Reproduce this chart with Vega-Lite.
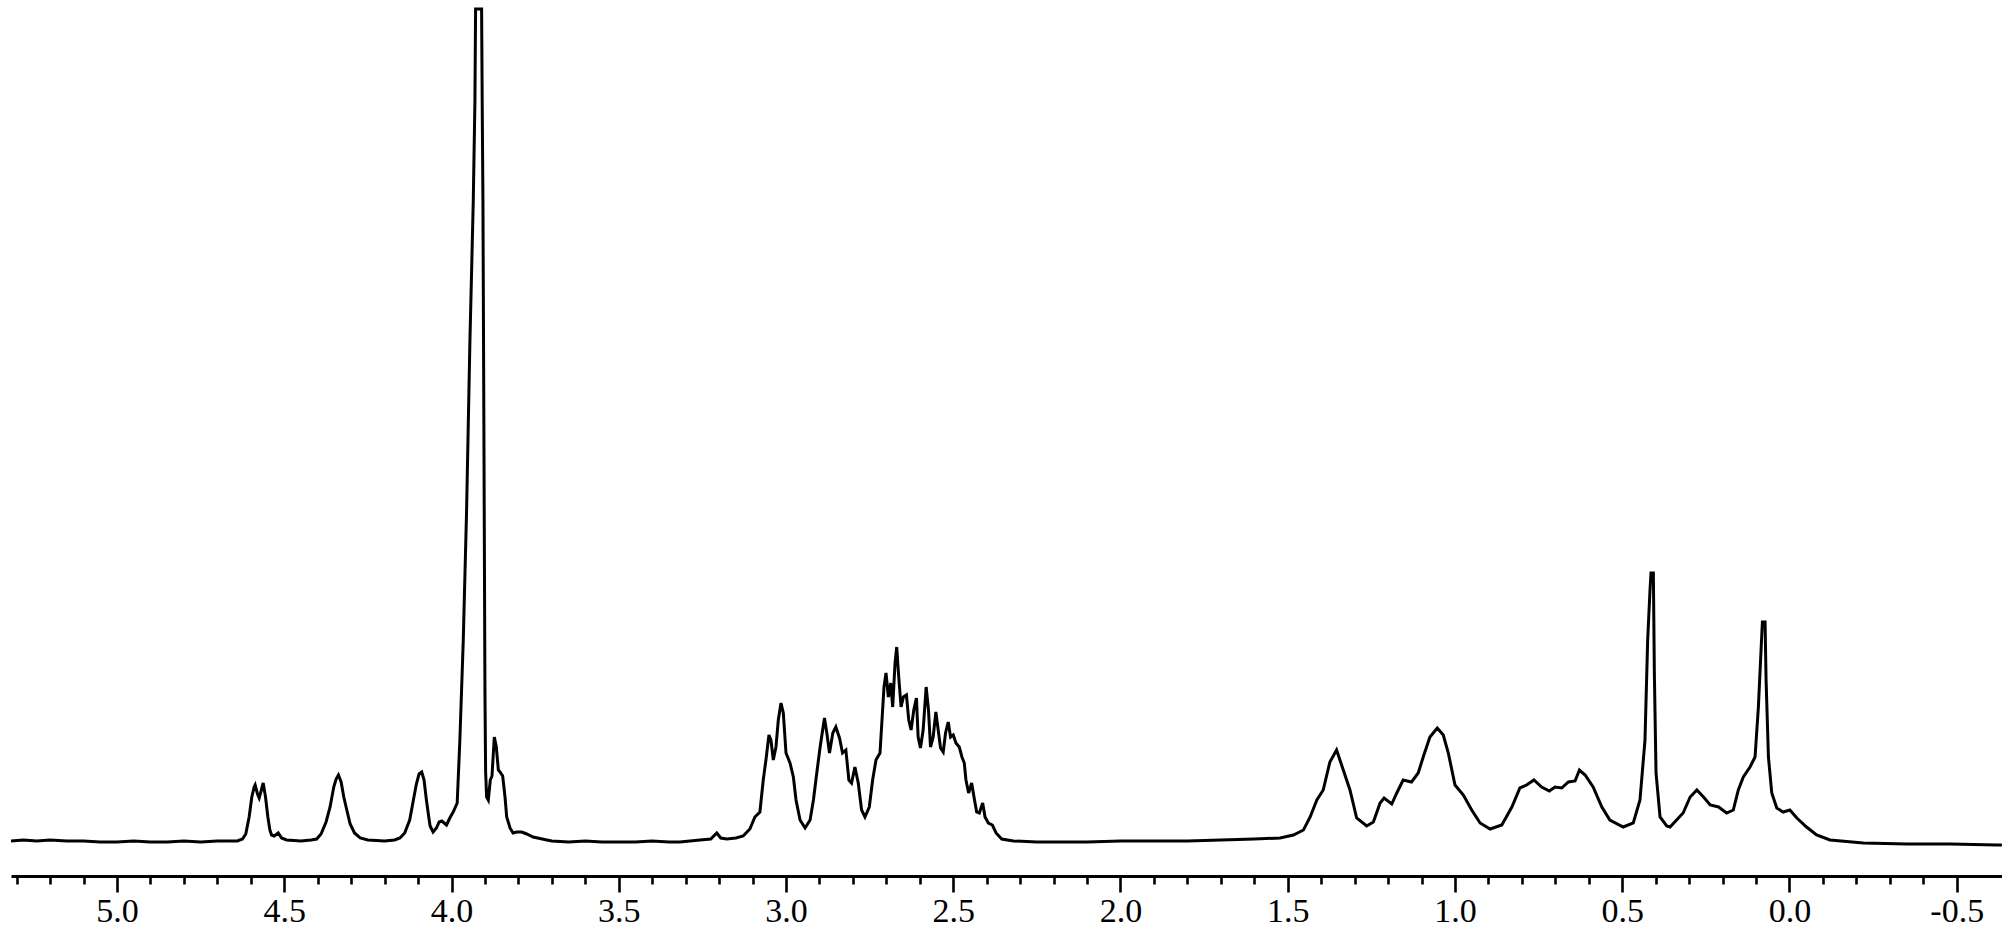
{
  "$schema": "https://vega.github.io/schema/vega-lite/v6.json",
  "width": 1991,
  "height": 876,
  "autosize": {"type": "none"},
  "padding": {"left": 11, "right": 0, "top": 0, "bottom": 66},
  "background": "white",
  "config": {"view": {"stroke": null}},
  "data": {"values": [
    {"ppm": 5.317, "i": 1}, {"ppm": 5.28, "i": 2}, {"ppm": 5.24, "i": 1}, {"ppm": 5.2, "i": 2}, {"ppm": 5.15, "i": 1},
    {"ppm": 5.1, "i": 1}, {"ppm": 5.05, "i": 0}, {"ppm": 5.0, "i": 0}, {"ppm": 4.95, "i": 1}, {"ppm": 4.9, "i": 0},
    {"ppm": 4.85, "i": 0}, {"ppm": 4.8, "i": 1}, {"ppm": 4.75, "i": 0}, {"ppm": 4.7, "i": 1}, {"ppm": 4.66, "i": 1},
    {"ppm": 4.64, "i": 1}, {"ppm": 4.625, "i": 3}, {"ppm": 4.615, "i": 8}, {"ppm": 4.605, "i": 25}, {"ppm": 4.597, "i": 45},
    {"ppm": 4.59, "i": 55}, {"ppm": 4.587, "i": 57}, {"ppm": 4.58, "i": 48}, {"ppm": 4.575, "i": 44}, {"ppm": 4.57, "i": 50},
    {"ppm": 4.563, "i": 59}, {"ppm": 4.556, "i": 45}, {"ppm": 4.549, "i": 25}, {"ppm": 4.543, "i": 12}, {"ppm": 4.538, "i": 7},
    {"ppm": 4.53, "i": 6}, {"ppm": 4.518, "i": 9}, {"ppm": 4.508, "i": 4}, {"ppm": 4.493, "i": 2}, {"ppm": 4.45, "i": 1},
    {"ppm": 4.42, "i": 2}, {"ppm": 4.403, "i": 3}, {"ppm": 4.39, "i": 8}, {"ppm": 4.375, "i": 20}, {"ppm": 4.363, "i": 35},
    {"ppm": 4.352, "i": 55}, {"ppm": 4.345, "i": 63}, {"ppm": 4.338, "i": 67}, {"ppm": 4.33, "i": 60}, {"ppm": 4.322, "i": 45},
    {"ppm": 4.313, "i": 32}, {"ppm": 4.303, "i": 18}, {"ppm": 4.29, "i": 9}, {"ppm": 4.273, "i": 4}, {"ppm": 4.25, "i": 2},
    {"ppm": 4.2, "i": 1}, {"ppm": 4.17, "i": 2}, {"ppm": 4.154, "i": 4}, {"ppm": 4.14, "i": 9}, {"ppm": 4.125, "i": 22},
    {"ppm": 4.115, "i": 40}, {"ppm": 4.105, "i": 58}, {"ppm": 4.097, "i": 68}, {"ppm": 4.089, "i": 70}, {"ppm": 4.082, "i": 62},
    {"ppm": 4.075, "i": 42}, {"ppm": 4.068, "i": 25}, {"ppm": 4.064, "i": 16}, {"ppm": 4.055, "i": 10}, {"ppm": 4.045, "i": 14},
    {"ppm": 4.037, "i": 20}, {"ppm": 4.029, "i": 21}, {"ppm": 4.022, "i": 19}, {"ppm": 4.015, "i": 17}, {"ppm": 4.005, "i": 24},
    {"ppm": 3.995, "i": 30}, {"ppm": 3.983, "i": 39}, {"ppm": 3.975, "i": 102}, {"ppm": 3.965, "i": 200}, {"ppm": 3.955, "i": 330},
    {"ppm": 3.945, "i": 500}, {"ppm": 3.935, "i": 640}, {"ppm": 3.93, "i": 740}, {"ppm": 3.928, "i": 833}, {"ppm": 3.91, "i": 833},
    {"ppm": 3.908, "i": 729}, {"ppm": 3.906, "i": 642}, {"ppm": 3.903, "i": 400}, {"ppm": 3.9, "i": 150}, {"ppm": 3.898, "i": 70},
    {"ppm": 3.895, "i": 45}, {"ppm": 3.89, "i": 42}, {"ppm": 3.884, "i": 62}, {"ppm": 3.879, "i": 66}, {"ppm": 3.872, "i": 105},
    {"ppm": 3.866, "i": 95}, {"ppm": 3.86, "i": 72}, {"ppm": 3.855, "i": 70}, {"ppm": 3.847, "i": 66}, {"ppm": 3.84, "i": 45},
    {"ppm": 3.835, "i": 25}, {"ppm": 3.825, "i": 14}, {"ppm": 3.816, "i": 9}, {"ppm": 3.805, "i": 10}, {"ppm": 3.79, "i": 10},
    {"ppm": 3.775, "i": 8}, {"ppm": 3.756, "i": 5}, {"ppm": 3.715, "i": 2}, {"ppm": 3.7, "i": 1}, {"ppm": 3.65, "i": 0},
    {"ppm": 3.6, "i": 1}, {"ppm": 3.55, "i": 0}, {"ppm": 3.5, "i": 0}, {"ppm": 3.45, "i": 0}, {"ppm": 3.4, "i": 1},
    {"ppm": 3.35, "i": 0}, {"ppm": 3.317, "i": 0}, {"ppm": 3.257, "i": 2}, {"ppm": 3.225, "i": 3}, {"ppm": 3.207, "i": 9},
    {"ppm": 3.195, "i": 4}, {"ppm": 3.177, "i": 3}, {"ppm": 3.15, "i": 4}, {"ppm": 3.128, "i": 6}, {"ppm": 3.108, "i": 13},
    {"ppm": 3.093, "i": 25}, {"ppm": 3.078, "i": 30}, {"ppm": 3.068, "i": 62}, {"ppm": 3.06, "i": 82}, {"ppm": 3.051, "i": 107},
    {"ppm": 3.045, "i": 102}, {"ppm": 3.038, "i": 82}, {"ppm": 3.03, "i": 95}, {"ppm": 3.023, "i": 122}, {"ppm": 3.015, "i": 139},
    {"ppm": 3.008, "i": 129}, {"ppm": 3.0, "i": 89}, {"ppm": 2.988, "i": 79}, {"ppm": 2.978, "i": 65}, {"ppm": 2.97, "i": 42},
    {"ppm": 2.958, "i": 22}, {"ppm": 2.943, "i": 14}, {"ppm": 2.928, "i": 22}, {"ppm": 2.918, "i": 42}, {"ppm": 2.908, "i": 69},
    {"ppm": 2.898, "i": 95}, {"ppm": 2.885, "i": 124}, {"ppm": 2.878, "i": 109}, {"ppm": 2.87, "i": 89}, {"ppm": 2.86, "i": 109},
    {"ppm": 2.851, "i": 115}, {"ppm": 2.84, "i": 104}, {"ppm": 2.831, "i": 89}, {"ppm": 2.821, "i": 92}, {"ppm": 2.812, "i": 62},
    {"ppm": 2.804, "i": 59}, {"ppm": 2.794, "i": 75}, {"ppm": 2.784, "i": 59}, {"ppm": 2.774, "i": 32}, {"ppm": 2.764, "i": 25},
    {"ppm": 2.751, "i": 35}, {"ppm": 2.741, "i": 62}, {"ppm": 2.731, "i": 82}, {"ppm": 2.719, "i": 89}, {"ppm": 2.713, "i": 122},
    {"ppm": 2.707, "i": 155}, {"ppm": 2.701, "i": 169}, {"ppm": 2.694, "i": 145}, {"ppm": 2.687, "i": 159}, {"ppm": 2.681, "i": 135},
    {"ppm": 2.674, "i": 179}, {"ppm": 2.669, "i": 195}, {"ppm": 2.663, "i": 165}, {"ppm": 2.656, "i": 135}, {"ppm": 2.649, "i": 145},
    {"ppm": 2.64, "i": 147}, {"ppm": 2.633, "i": 122}, {"ppm": 2.626, "i": 112}, {"ppm": 2.618, "i": 132}, {"ppm": 2.61, "i": 144},
    {"ppm": 2.605, "i": 105}, {"ppm": 2.598, "i": 94}, {"ppm": 2.59, "i": 112}, {"ppm": 2.581, "i": 155}, {"ppm": 2.574, "i": 132},
    {"ppm": 2.568, "i": 95}, {"ppm": 2.56, "i": 105}, {"ppm": 2.552, "i": 130}, {"ppm": 2.545, "i": 112}, {"ppm": 2.538, "i": 94},
    {"ppm": 2.53, "i": 90}, {"ppm": 2.523, "i": 109}, {"ppm": 2.515, "i": 120}, {"ppm": 2.508, "i": 105}, {"ppm": 2.5, "i": 107},
    {"ppm": 2.492, "i": 99}, {"ppm": 2.482, "i": 95}, {"ppm": 2.474, "i": 85}, {"ppm": 2.467, "i": 79}, {"ppm": 2.462, "i": 62},
    {"ppm": 2.454, "i": 49}, {"ppm": 2.445, "i": 59}, {"ppm": 2.438, "i": 45}, {"ppm": 2.43, "i": 30}, {"ppm": 2.422, "i": 29},
    {"ppm": 2.412, "i": 39}, {"ppm": 2.405, "i": 25}, {"ppm": 2.395, "i": 19}, {"ppm": 2.383, "i": 17}, {"ppm": 2.372, "i": 9},
    {"ppm": 2.355, "i": 3}, {"ppm": 2.32, "i": 1}, {"ppm": 2.25, "i": 0}, {"ppm": 2.18, "i": 0}, {"ppm": 2.1, "i": 0},
    {"ppm": 2.0, "i": 1}, {"ppm": 1.9, "i": 1}, {"ppm": 1.8, "i": 1}, {"ppm": 1.7, "i": 2}, {"ppm": 1.6, "i": 3},
    {"ppm": 1.523, "i": 4}, {"ppm": 1.483, "i": 7}, {"ppm": 1.453, "i": 12}, {"ppm": 1.433, "i": 25}, {"ppm": 1.413, "i": 42},
    {"ppm": 1.394, "i": 52}, {"ppm": 1.374, "i": 80}, {"ppm": 1.354, "i": 92}, {"ppm": 1.334, "i": 72}, {"ppm": 1.314, "i": 52},
    {"ppm": 1.294, "i": 24}, {"ppm": 1.264, "i": 16}, {"ppm": 1.244, "i": 20}, {"ppm": 1.224, "i": 39}, {"ppm": 1.212, "i": 44},
    {"ppm": 1.189, "i": 38}, {"ppm": 1.174, "i": 49}, {"ppm": 1.155, "i": 62}, {"ppm": 1.13, "i": 60}, {"ppm": 1.11, "i": 69},
    {"ppm": 1.095, "i": 85}, {"ppm": 1.075, "i": 105}, {"ppm": 1.053, "i": 114}, {"ppm": 1.035, "i": 107}, {"ppm": 1.02, "i": 89},
    {"ppm": 1.0, "i": 57}, {"ppm": 0.975, "i": 47}, {"ppm": 0.95, "i": 32}, {"ppm": 0.925, "i": 19}, {"ppm": 0.895, "i": 13},
    {"ppm": 0.86, "i": 17}, {"ppm": 0.83, "i": 35}, {"ppm": 0.806, "i": 54}, {"ppm": 0.786, "i": 57}, {"ppm": 0.764, "i": 62},
    {"ppm": 0.741, "i": 55}, {"ppm": 0.718, "i": 51}, {"ppm": 0.701, "i": 55}, {"ppm": 0.681, "i": 54}, {"ppm": 0.661, "i": 60},
    {"ppm": 0.641, "i": 61}, {"ppm": 0.628, "i": 72}, {"ppm": 0.611, "i": 67}, {"ppm": 0.587, "i": 55}, {"ppm": 0.561, "i": 35},
    {"ppm": 0.537, "i": 22}, {"ppm": 0.497, "i": 15}, {"ppm": 0.467, "i": 19}, {"ppm": 0.447, "i": 42}, {"ppm": 0.432, "i": 102},
    {"ppm": 0.424, "i": 202}, {"ppm": 0.417, "i": 252}, {"ppm": 0.414, "i": 269}, {"ppm": 0.407, "i": 269}, {"ppm": 0.404, "i": 169},
    {"ppm": 0.399, "i": 69}, {"ppm": 0.387, "i": 25}, {"ppm": 0.367, "i": 16}, {"ppm": 0.357, "i": 15}, {"ppm": 0.332, "i": 24},
    {"ppm": 0.318, "i": 29}, {"ppm": 0.297, "i": 45}, {"ppm": 0.277, "i": 52}, {"ppm": 0.257, "i": 45}, {"ppm": 0.237, "i": 37},
    {"ppm": 0.212, "i": 35}, {"ppm": 0.188, "i": 29}, {"ppm": 0.168, "i": 32}, {"ppm": 0.153, "i": 52}, {"ppm": 0.138, "i": 65},
    {"ppm": 0.118, "i": 75}, {"ppm": 0.103, "i": 85}, {"ppm": 0.093, "i": 135}, {"ppm": 0.086, "i": 185}, {"ppm": 0.081, "i": 220},
    {"ppm": 0.073, "i": 220}, {"ppm": 0.07, "i": 162}, {"ppm": 0.063, "i": 85}, {"ppm": 0.053, "i": 49}, {"ppm": 0.038, "i": 34},
    {"ppm": 0.019, "i": 30}, {"ppm": -0.001, "i": 32}, {"ppm": -0.022, "i": 24}, {"ppm": -0.051, "i": 15}, {"ppm": -0.081, "i": 7},
    {"ppm": -0.121, "i": 2}, {"ppm": -0.221, "i": -1}, {"ppm": -0.35, "i": -2}, {"ppm": -0.48, "i": -2}, {"ppm": -0.619, "i": -3},
    {"ppm": -0.635, "i": -3}
  ]},
  "layer": [
    {
      "mark": {"type": "line", "color": "black", "strokeWidth": 3, "clip": true},
      "encoding": {
        "x": {
          "field": "ppm",
          "type": "quantitative",
          "scale": {"domain": [-0.6353, 5.3169], "reverse": true, "nice": false, "zero": false},
          "axis": {
            "orient": "bottom",
            "title": null,
            "grid": false,
            "values": [5.0, 4.5, 4.0, 3.5, 3.0, 2.5, 2.0, 1.5, 1.0, 0.5, 0.0, -0.5],
            "domainColor": "black",
            "domainWidth": 2.8,
            "tickColor": "black",
            "tickWidth": 2.6,
            "tickSize": 16,
            "labelExpr": "datum.value < 0 ? '-' + format(-datum.value, '.1f') : format(datum.value, '.1f')",
            "labelFont": "Liberation Serif",
            "labelFontSize": 34,
            "labelColor": "black",
            "labelPadding": 2,
            "labelOverlap": false,
            "labelFlush": false,
            "labelBound": false
          }
        },
        "y": {
          "field": "i",
          "type": "quantitative",
          "scale": {"domain": [-34, 842], "nice": false, "zero": false},
          "axis": null
        }
      }
    },
    {
      "mark": {"type": "line", "opacity": 0, "clip": true},
      "encoding": {
        "x": {
          "field": "ppm",
          "type": "quantitative",
          "axis": {
            "orient": "bottom",
            "title": null,
            "grid": false,
            "values": [5.3, 5.2, 5.1, 4.9, 4.8, 4.7, 4.6, 4.4, 4.3, 4.2, 4.1, 3.9, 3.8, 3.7, 3.6, 3.4, 3.3, 3.2, 3.1, 2.9, 2.8, 2.7, 2.6, 2.4, 2.3, 2.2, 2.1, 1.9, 1.8, 1.7, 1.6, 1.4, 1.3, 1.2, 1.1, 0.9, 0.8, 0.7, 0.6, 0.4, 0.3, 0.2, 0.1, -0.1, -0.2, -0.3, -0.4],
            "domain": false,
            "labels": false,
            "tickColor": "black",
            "tickWidth": 2.6,
            "tickSize": 8
          }
        },
        "y": {"field": "i", "type": "quantitative", "axis": null}
      }
    }
  ],
  "resolve": {"axis": {"x": "independent"}}
}
